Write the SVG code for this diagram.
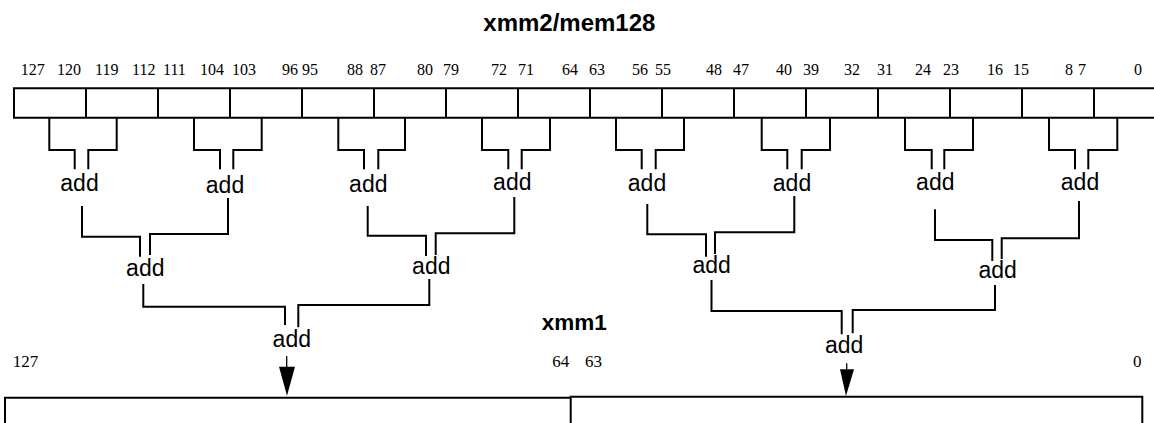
<svg xmlns="http://www.w3.org/2000/svg" width="1154" height="423" viewBox="0 0 1154 423">
<style>
.ln{fill:none;stroke:#000;stroke-width:2;stroke-linecap:butt;stroke-linejoin:miter}
.stem{fill:none;stroke:#000;stroke-width:1.3}
.ah{fill:#000;stroke:none}
.add{font-family:"Liberation Sans",Arial,sans-serif;font-size:23px;text-anchor:middle;fill:#000}
.bit{font-family:"Liberation Serif","Times New Roman",serif;font-size:16px;fill:#000}
.bitb{font-family:"Liberation Serif","Times New Roman",serif;font-size:17px;fill:#000}
.ttl{font-family:"Liberation Sans",Arial,sans-serif;font-weight:bold;fill:#000}
</style>
<rect width="1154" height="423" fill="#fff"/>

<g id="title-src"><text class="ttl" x="483.3" y="30.7" font-size="24">xmm2/mem128</text></g>

<g id="src-bits">
<text class="bit" y="75" x="20.7">127</text><text class="bit" y="75" x="57">120</text>
<text class="bit" y="75" x="95">119</text><text class="bit" y="75" x="132">112</text>
<text class="bit" y="75" x="163">111</text><text class="bit" y="75" x="200">104</text>
<text class="bit" y="75" x="232">103</text><text class="bit" y="75" x="282">96</text>
<text class="bit" y="75" x="302">95</text><text class="bit" y="75" x="347">88</text>
<text class="bit" y="75" x="370">87</text><text class="bit" y="75" x="417">80</text>
<text class="bit" y="75" x="443">79</text><text class="bit" y="75" x="491">72</text>
<text class="bit" y="75" x="518">71</text><text class="bit" y="75" x="562">64</text>
<text class="bit" y="75" x="589">63</text><text class="bit" y="75" x="632">56</text>
<text class="bit" y="75" x="655">55</text><text class="bit" y="75" x="706">48</text>
<text class="bit" y="75" x="733">47</text><text class="bit" y="75" x="776">40</text>
<text class="bit" y="75" x="803">39</text><text class="bit" y="75" x="844">32</text>
<text class="bit" y="75" x="877">31</text><text class="bit" y="75" x="915">24</text>
<text class="bit" y="75" x="943">23</text><text class="bit" y="75" x="987">16</text>
<text class="bit" y="75" x="1013">15</text><text class="bit" y="75" x="1065">8</text>
<text class="bit" y="75" x="1078">7</text><text class="bit" y="75" x="1134">0</text>
</g>

<g id="src-register">
<path class="ln" d="M1154,88.3 H14 V117.7 H1154"/>
<path class="ln" d="M86,88.3V117.7M158,88.3V117.7M230,88.3V117.7M302,88.3V117.7M374,88.3V117.7M446,88.3V117.7M518,88.3V117.7M590,88.3V117.7M662,88.3V117.7M734,88.3V117.7M806,88.3V117.7M878,88.3V117.7M950,88.3V117.7M1022,88.3V117.7M1094,88.3V117.7"/>
</g>

<g id="connectors">
<!-- level 1 -->
<path class="ln" d="M49.3,117.7V150H74.7V169.3M116.7,117.7V150H88.3V169.3"/>
<path class="ln" d="M194,117.7V150H220V169.3M261.7,117.7V150H233.3V169.3"/>
<path class="ln" d="M338.3,117.7V150H364V169.3M405,117.7V150H378.3V169.3"/>
<path class="ln" d="M482,117.7V150H508.3V169.3M550,117.7V150H521.7V169.3"/>
<path class="ln" d="M616,117.7V150H641.7V169.3M684,117.7V150H655.7V169.3"/>
<path class="ln" d="M761.7,117.7V150H787.3V169.3M830,117.7V150H801.7V169.3"/>
<path class="ln" d="M905,117.7V150H931.7V169.3M973,117.7V150H944.3V169.3"/>
<path class="ln" d="M1049,117.7V150H1075V169.3M1117.3,117.7V150H1088.3V169.3"/>
<!-- level 2 -->
<path class="ln" d="M82,206V236.7H140V256.7M228,198V234H150V255"/>
<path class="ln" d="M367.7,206V235.7H426V256M514.3,197V233.3H435.7V255"/>
<path class="ln" d="M647.3,204V234.3H706V256.7M794.3,196V232.3H715V254"/>
<path class="ln" d="M935,209.3V240H992.3V261M1079,201V238.3H1001.7V259"/>
<!-- level 3 -->
<path class="ln" d="M143.3,284V306.7H285V325M429.3,279V305H298.3V327.3"/>
<path class="ln" d="M711.5,280V311H841.7V334.3M995,285V310H852.7V333.3"/>
<!-- arrows -->
<path class="stem" d="M286.7,356V367"/>
<polygon class="ah" points="279,366.7 295,366.7 287,395.7"/>
<path class="stem" d="M846.7,363.3V369.5"/>
<polygon class="ah" points="840,369.3 854,369.3 846,396"/>
</g>

<g id="add-l1">
<text class="add" x="79.5" y="191">add</text>
<text class="add" x="225" y="193">add</text>
<text class="add" x="368.3" y="192">add</text>
<text class="add" x="512.3" y="190">add</text>
<text class="add" x="647" y="191">add</text>
<text class="add" x="792" y="191">add</text>
<text class="add" x="935.3" y="190">add</text>
<text class="add" x="1080" y="190">add</text>
</g>
<g id="add-l2">
<text class="add" x="145.3" y="275.7">add</text>
<text class="add" x="431.3" y="274.3">add</text>
<text class="add" x="711.7" y="272.7">add</text>
<text class="add" x="997.7" y="278.3">add</text>
</g>
<g id="add-l3">
<text class="add" x="291.8" y="346.7">add</text>
<text class="add" x="844.2" y="353.3">add</text>
</g>

<g id="title-dst"><text class="ttl" x="541.7" y="330" font-size="22.5">xmm1</text></g>
<g id="dst-bits">
<text class="bitb" x="12.7" y="366.7">127</text>
<text class="bitb" x="552.3" y="366.7">64</text>
<text class="bitb" x="585" y="366.7">63</text>
<text class="bitb" x="1133" y="366.7">0</text>
</g>
<g id="dst-register">
<path class="ln" d="M5,423V397.7H570.7"/>
<path class="ln" d="M570.7,423V396.7H1142.3V423"/>
</g>
</svg>
